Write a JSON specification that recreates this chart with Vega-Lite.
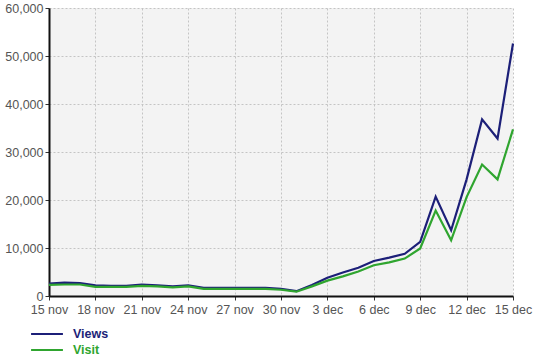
{
  "$schema": "https://vega.github.io/schema/vega-lite/v6.json",
  "width": 464,
  "height": 288,
  "autosize": {"type": "none"},
  "padding": {"left": 49, "top": 8, "right": 44, "bottom": 67},
  "background": "white",
  "config": {
    "view": {"fill": "#f3f3f3", "stroke": null},
    "font": "Liberation Sans",
    "axis": {
      "labelFont": "Liberation Sans",
      "labelFontSize": 12,
      "labelColor": "#555555",
      "domainColor": "#111111",
      "domainWidth": 2,
      "tickColor": "#333333",
      "tickSize": 4,
      "gridColor": "#c4c4c4",
      "gridDash": [2, 2],
      "gridWidth": 1,
      "title": null
    }
  },
  "data": {
    "values": [
      {"date": "2010-11-15", "series": "Views", "value": 2600},
      {"date": "2010-11-16", "series": "Views", "value": 2800},
      {"date": "2010-11-17", "series": "Views", "value": 2700},
      {"date": "2010-11-18", "series": "Views", "value": 2200},
      {"date": "2010-11-19", "series": "Views", "value": 2100},
      {"date": "2010-11-20", "series": "Views", "value": 2100},
      {"date": "2010-11-21", "series": "Views", "value": 2400},
      {"date": "2010-11-22", "series": "Views", "value": 2200},
      {"date": "2010-11-23", "series": "Views", "value": 2000},
      {"date": "2010-11-24", "series": "Views", "value": 2200},
      {"date": "2010-11-25", "series": "Views", "value": 1700},
      {"date": "2010-11-26", "series": "Views", "value": 1700},
      {"date": "2010-11-27", "series": "Views", "value": 1700},
      {"date": "2010-11-28", "series": "Views", "value": 1700},
      {"date": "2010-11-29", "series": "Views", "value": 1700},
      {"date": "2010-11-30", "series": "Views", "value": 1500},
      {"date": "2010-12-01", "series": "Views", "value": 1000},
      {"date": "2010-12-02", "series": "Views", "value": 2300},
      {"date": "2010-12-03", "series": "Views", "value": 3800},
      {"date": "2010-12-04", "series": "Views", "value": 4900},
      {"date": "2010-12-05", "series": "Views", "value": 5900},
      {"date": "2010-12-06", "series": "Views", "value": 7300},
      {"date": "2010-12-07", "series": "Views", "value": 8000},
      {"date": "2010-12-08", "series": "Views", "value": 8800},
      {"date": "2010-12-09", "series": "Views", "value": 11300},
      {"date": "2010-12-10", "series": "Views", "value": 20700},
      {"date": "2010-12-11", "series": "Views", "value": 13700},
      {"date": "2010-12-12", "series": "Views", "value": 24300},
      {"date": "2010-12-13", "series": "Views", "value": 36800},
      {"date": "2010-12-14", "series": "Views", "value": 32800},
      {"date": "2010-12-15", "series": "Views", "value": 52600},
      {"date": "2010-11-15", "series": "Visit", "value": 2300},
      {"date": "2010-11-16", "series": "Visit", "value": 2400},
      {"date": "2010-11-17", "series": "Visit", "value": 2400},
      {"date": "2010-11-18", "series": "Visit", "value": 1900},
      {"date": "2010-11-19", "series": "Visit", "value": 1900},
      {"date": "2010-11-20", "series": "Visit", "value": 1900},
      {"date": "2010-11-21", "series": "Visit", "value": 2100},
      {"date": "2010-11-22", "series": "Visit", "value": 2000},
      {"date": "2010-11-23", "series": "Visit", "value": 1800},
      {"date": "2010-11-24", "series": "Visit", "value": 2000},
      {"date": "2010-11-25", "series": "Visit", "value": 1500},
      {"date": "2010-11-26", "series": "Visit", "value": 1500},
      {"date": "2010-11-27", "series": "Visit", "value": 1500},
      {"date": "2010-11-28", "series": "Visit", "value": 1500},
      {"date": "2010-11-29", "series": "Visit", "value": 1500},
      {"date": "2010-11-30", "series": "Visit", "value": 1300},
      {"date": "2010-12-01", "series": "Visit", "value": 900},
      {"date": "2010-12-02", "series": "Visit", "value": 2000},
      {"date": "2010-12-03", "series": "Visit", "value": 3200},
      {"date": "2010-12-04", "series": "Visit", "value": 4100},
      {"date": "2010-12-05", "series": "Visit", "value": 5100},
      {"date": "2010-12-06", "series": "Visit", "value": 6400},
      {"date": "2010-12-07", "series": "Visit", "value": 7000},
      {"date": "2010-12-08", "series": "Visit", "value": 7800},
      {"date": "2010-12-09", "series": "Visit", "value": 9900},
      {"date": "2010-12-10", "series": "Visit", "value": 17800},
      {"date": "2010-12-11", "series": "Visit", "value": 11600},
      {"date": "2010-12-12", "series": "Visit", "value": 20600},
      {"date": "2010-12-13", "series": "Visit", "value": 27400},
      {"date": "2010-12-14", "series": "Visit", "value": 24300},
      {"date": "2010-12-15", "series": "Visit", "value": 34700}
    ]
  },
  "mark": {"type": "line", "strokeWidth": 2.2},
  "encoding": {
    "x": {
      "field": "date",
      "type": "temporal",
      "scale": {
        "type": "utc",
        "nice": false,
        "domain": [
          {"year": 2010, "month": 11, "date": 15, "utc": true},
          {"year": 2010, "month": 12, "date": 15, "utc": true}
        ]
      },
      "axis": {
        "values": [
          {"year": 2010, "month": 11, "date": 15, "utc": true},
          {"year": 2010, "month": 11, "date": 18, "utc": true},
          {"year": 2010, "month": 11, "date": 21, "utc": true},
          {"year": 2010, "month": 11, "date": 24, "utc": true},
          {"year": 2010, "month": 11, "date": 27, "utc": true},
          {"year": 2010, "month": 11, "date": 30, "utc": true},
          {"year": 2010, "month": 12, "date": 3, "utc": true},
          {"year": 2010, "month": 12, "date": 6, "utc": true},
          {"year": 2010, "month": 12, "date": 9, "utc": true},
          {"year": 2010, "month": 12, "date": 12, "utc": true},
          {"year": 2010, "month": 12, "date": 15, "utc": true}
        ],
        "labelExpr": "utcFormat(datum.value, '%-d') + ' ' + lower(utcFormat(datum.value, '%b'))",
        "labelOverlap": false,
        "labelFlush": false,
        "labelPadding": 3,
        "labelFontSize": 12.5
      }
    },
    "y": {
      "field": "value",
      "type": "quantitative",
      "scale": {"domain": [0, 60000], "nice": false},
      "axis": {"values": [0, 10000, 20000, 30000, 40000, 50000, 60000], "format": ",d", "labelPadding": 2, "labelFontSize": 12.5}
    },
    "color": {
      "field": "series",
      "type": "nominal",
      "scale": {"domain": ["Views", "Visit"], "range": ["#1c1f78", "#2fa52f"]},
      "legend": {
        "title": null,
        "orient": "none",
        "legendX": -11,
        "legendY": 317,
        "padding": 0,
        "symbolType": "M-2.1,0H2.1",
        "symbolSize": 230,
        "symbolStrokeWidth": 2,
        "labelFontSize": 12.5,
        "labelFontWeight": "bold",
        "rowPadding": 0,
        "labelOffset": 17,
        "encode": {
          "labels": {"update": {"fill": {"signal": "datum.value === 'Views' ? '#1c1f78' : '#2fa52f'"}}}
        }
      }
    }
  }
}
